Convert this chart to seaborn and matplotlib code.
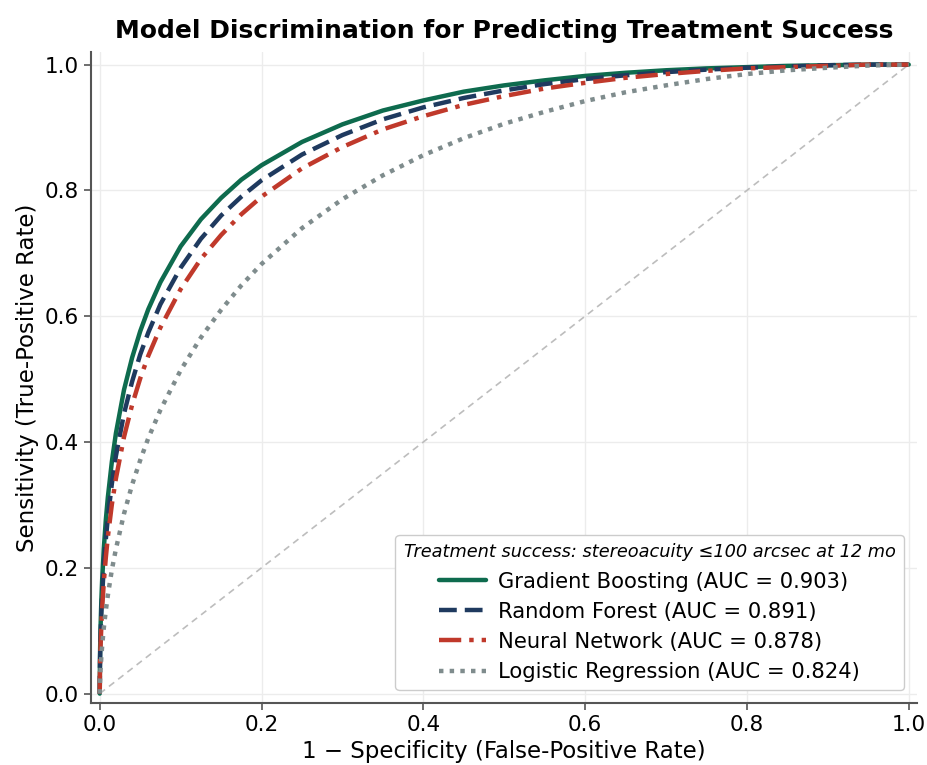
import numpy as np
import pandas as pd
import matplotlib
matplotlib.use("Agg")
import matplotlib.pyplot as plt
import seaborn as sns

# false-positive rate grid and read-off sensitivities for each model
fpr = [0.0, 0.0002, 0.0005, 0.001, 0.002, 0.003, 0.005, 0.0075, 0.01, 0.015,
       0.02, 0.03, 0.04, 0.05, 0.06, 0.075, 0.1, 0.125, 0.15, 0.175,
       0.2, 0.25, 0.3, 0.35, 0.4, 0.45, 0.5, 0.55, 0.6, 0.65,
       0.7, 0.75, 0.8, 0.85, 0.9, 0.95, 1.0]
tpr_gb = [0.0, 0.044, 0.073, 0.105, 0.149, 0.181, 0.230, 0.276, 0.312, 0.369,
          0.414, 0.483, 0.534, 0.576, 0.611, 0.654, 0.711, 0.754, 0.788, 0.817,
          0.840, 0.877, 0.905, 0.927, 0.943, 0.957, 0.967, 0.975, 0.982, 0.987,
          0.991, 0.994, 0.996, 0.998, 0.999, 1.0, 1.0]
tpr_rf = [0.0, 0.036, 0.061, 0.089, 0.128, 0.157, 0.202, 0.245, 0.279, 0.334,
          0.378, 0.445, 0.496, 0.539, 0.574, 0.619, 0.677, 0.723, 0.760, 0.790,
          0.816, 0.857, 0.888, 0.913, 0.932, 0.947, 0.959, 0.969, 0.977, 0.983,
          0.988, 0.992, 0.995, 0.997, 0.999, 1.0, 1.0]
tpr_nn = [0.0, 0.029, 0.050, 0.075, 0.109, 0.136, 0.177, 0.216, 0.249, 0.301,
          0.342, 0.408, 0.459, 0.501, 0.537, 0.582, 0.643, 0.691, 0.729, 0.762,
          0.790, 0.835, 0.869, 0.897, 0.918, 0.936, 0.950, 0.962, 0.971, 0.979,
          0.985, 0.990, 0.994, 0.996, 0.998, 1.0, 1.0]
tpr_lr = [0.0, 0.013, 0.024, 0.038, 0.059, 0.076, 0.104, 0.132, 0.156, 0.197,
          0.230, 0.286, 0.332, 0.371, 0.406, 0.451, 0.514, 0.566, 0.610, 0.649,
          0.683, 0.740, 0.786, 0.824, 0.856, 0.883, 0.906, 0.925, 0.942, 0.956,
          0.967, 0.977, 0.985, 0.991, 0.995, 0.9985, 1.0]

models = ["Gradient Boosting", "Random Forest", "Neural Network", "Logistic Regression"]
aucs = [0.903, 0.891, 0.878, 0.824]
colors = ["#0e6b4e", "#1f3a5f", "#c0392b", "#7f8c8d"]
styles = ["-", (0, (4, 1.8)), (0, (5, 1.8, 1, 1.8)), (0, (1, 1.4))]

df = pd.DataFrame({
    "fpr": fpr * 4,
    "tpr": tpr_gb + tpr_rf + tpr_nn + tpr_lr,
    "model": np.repeat(models, len(fpr)),
})

sns.set_style("whitegrid")
plt.rcParams["font.family"] = ["DejaVu Sans"]
plt.rcParams["text.color"] = "black"
plt.rcParams["axes.labelcolor"] = "black"
plt.rcParams["xtick.color"] = "#555555"
plt.rcParams["ytick.color"] = "#555555"
plt.rcParams["xtick.labelcolor"] = "black"
plt.rcParams["ytick.labelcolor"] = "black"

fig, ax = plt.subplots(figsize=(9.27, 7.65), dpi=100)

ax.plot([0, 1], [0, 1], linestyle=(0, (4, 3)), color="#bdbdbd", linewidth=1.2, zorder=1)

for name, auc, c, ls in zip(models, aucs, colors, styles):
    sub = df[df["model"] == name]
    sns.lineplot(data=sub, x="fpr", y="tpr", ax=ax, color=c, linewidth=3.2,
                 linestyle=ls, label=f"{name} (AUC = {auc:.3f})",
                 sort=False, estimator=None)

ax.set_xlim(-0.011, 1.01)
ax.set_ylim(-0.015, 1.02)
ax.set_xticks([0, 0.2, 0.4, 0.6, 0.8, 1.0])
ax.set_yticks([0, 0.2, 0.4, 0.6, 0.8, 1.0])
ax.tick_params(axis="both", labelsize=15.5, direction="out", length=5, width=1.2,
               bottom=True, left=True)
ax.grid(color="#ececec", linewidth=1)
for s in ["top", "right"]:
    ax.spines[s].set_visible(False)
for s in ["left", "bottom"]:
    ax.spines[s].set_color("#555555")
    ax.spines[s].set_linewidth(1.5)

ax.set_xlabel("1 \u2212 Specificity (False-Positive Rate)", fontsize=16.5)
ax.set_ylabel("Sensitivity (True-Positive Rate)", fontsize=16.5)
ax.set_title("Model Discrimination for Predicting Treatment Success",
             fontsize=18, fontweight="bold", pad=10)

leg = ax.legend(loc="lower right", fontsize=15.2, frameon=True, handlelength=2.2,
                title="Treatment success: stereoacuity \u2264100 arcsec at 12 mo",
                title_fontsize=12.8, fancybox=True, edgecolor="#cccccc",
                framealpha=1.0, borderaxespad=0.6, labelspacing=0.48,
                handletextpad=0.6)
leg.get_title().set_fontstyle("italic")

fig.subplots_adjust(left=0.098, right=0.989, top=0.932, bottom=0.081)
fig.savefig("out.png", dpi=100)
